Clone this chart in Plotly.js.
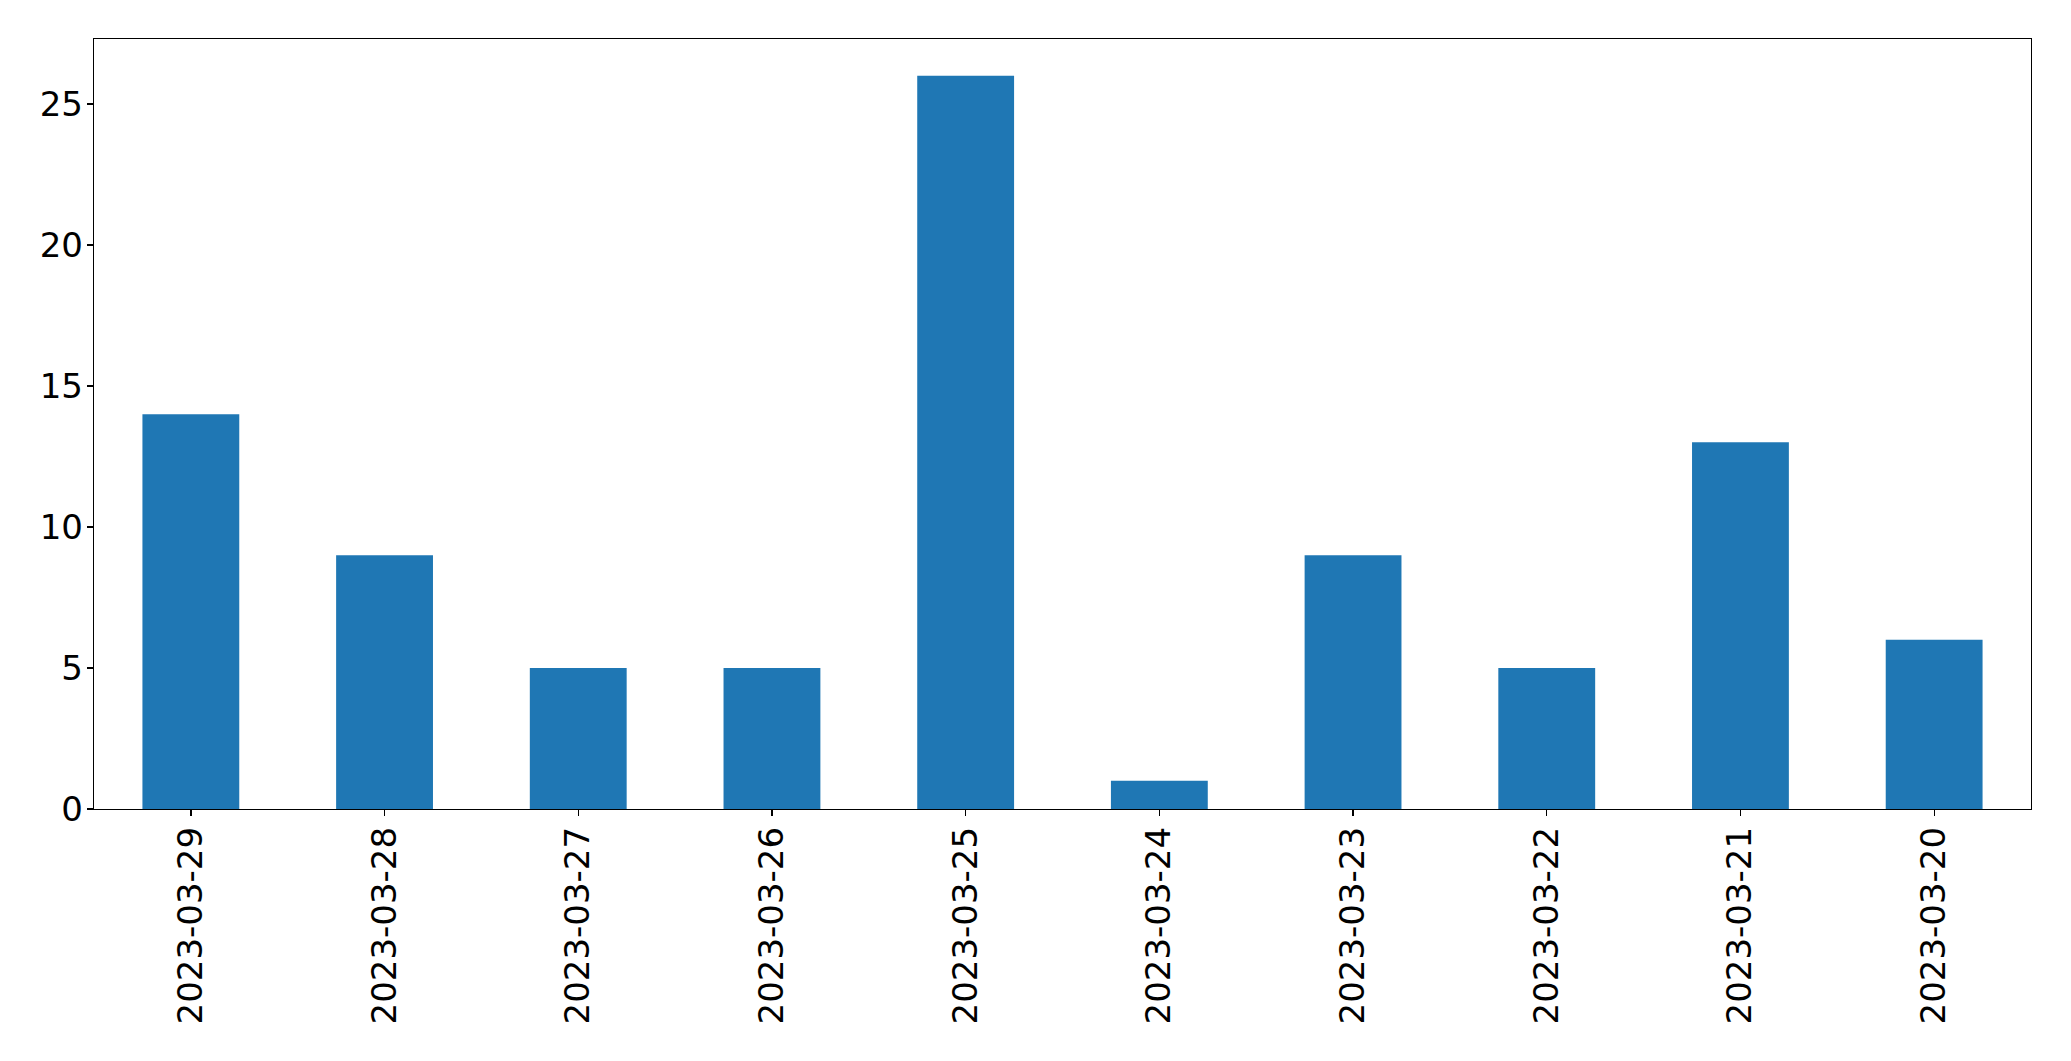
<!DOCTYPE html>
<html>
<head>
<meta charset="utf-8">
<script src="https://cdn.plot.ly/plotly-3.0.1.min.js"></script>
<style>html,body{margin:0;padding:0;background:#fff;}#chart{width:2071px;height:1061px;}</style>
</head>
<body>
<div id="chart"></div>
<script>
const categories = ["2023-03-29","2023-03-28","2023-03-27","2023-03-26","2023-03-25","2023-03-24","2023-03-23","2023-03-22","2023-03-21","2023-03-20"];
const counts = [14, 9, 5, 5, 26, 1, 9, 5, 13, 6];
const yTicks = [0, 5, 10, 15, 20, 25];

const trace = {
  type: 'bar',
  x: categories,
  y: counts,
  marker: {color: '#1f77b4', line: {width: 0}},
  hoverinfo: 'x+y'
};
const axisFont = {family: 'DejaVu Sans, sans-serif', size: 34, color: '#000'};
const layout = {
  width: 2071, height: 1061,
  margin: {l: 94, r: 40, t: 39, b: 252},
  paper_bgcolor: '#fff', plot_bgcolor: '#fff',
  bargap: 0.5,
  showlegend: false,
  xaxis: {
    type: 'category',
    range: [-0.5, 9.5],
    tickangle: -90,
    tickfont: axisFont,
    ticks: 'outside', ticklen: 6, tickwidth: 1.3, tickcolor: '#000',
    ticklabelstandoff: -3,
    showline: true, linecolor: '#000', linewidth: 1.3, mirror: true,
    showgrid: false, zeroline: false
  },
  yaxis: {
    range: [0, 27.3],
    tickvals: yTicks,
    ticktext: yTicks.map(String),
    tickfont: axisFont,
    ticks: 'outside', ticklen: 6, tickwidth: 1.3, tickcolor: '#000',
    ticklabelstandoff: -3,
    showline: true, linecolor: '#000', linewidth: 1.3, mirror: true,
    showgrid: false, zeroline: false
  }
};
Plotly.newPlot('chart', [trace], layout, {displayModeBar: false, staticPlot: true});
</script>
</body>
</html>
